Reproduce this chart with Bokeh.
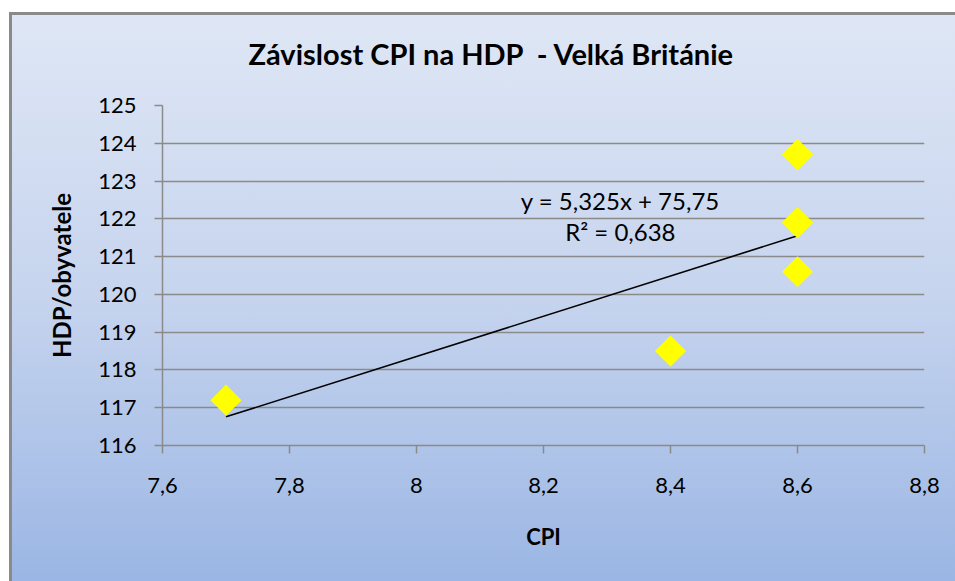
import numpy as np
from bokeh.plotting import figure
from bokeh.models import FixedTicker, Range1d, Label
from bokeh.embed import file_html
from bokeh.resources import INLINE

# Data
cpi = [7.7, 8.4, 8.6, 8.6, 8.6]
hdp = [117.2, 118.5, 120.6, 121.9, 123.7]
x_ticks = [7.6, 7.8, 8.0, 8.2, 8.4, 8.6, 8.8]
x_tick_labels = ["7,6", "7,8", "8", "8,2", "8,4", "8,6", "8,8"]
y_ticks = [116, 117, 118, 119, 120, 121, 122, 123, 124, 125]
title_text = "Závislost CPI na HDP\u00a0\u00a0- Velká Británie"
eq_text = "y = 5,325x + 75,75"
r2_text = "R² = 0,638"

FONT = "Lato"
GRAY = "#8a8a8a"

p = figure(width=946, height=581, output_backend="svg", toolbar_location=None,
           x_range=Range1d(7.6, 8.8), y_range=Range1d(116, 125),
           min_border_left=153, min_border_right=31, min_border_top=105, min_border_bottom=136)
p.margin = (0, 0, 0, 9)
p.styles = {
    "background": (
        "linear-gradient(#8a8a8a, #8a8a8a) 0 12px / 100% 3px no-repeat, "
        "linear-gradient(#8a8a8a, #8a8a8a) 0 12px / 3px 100% no-repeat, "
        "linear-gradient(to bottom, #dfe7f5 0%, #c6d4ee 50%, #9bb6e4 100%) 0 12px / 100% calc(100% - 12px) no-repeat, "
        "#ffffff"
    ),
}
p.background_fill_alpha = 0
p.border_fill_alpha = 0
p.outline_line_color = None

p.title.text = title_text
p.title.text_font = FONT
p.title.text_font_size = "29px"
p.title.text_font_style = "bold"
p.title.text_color = "black"
p.title.align = "left"
p.title.vertical_align = "top"
p.title.offset = 86
p.title.standoff = 66

# Axes
p.xaxis.ticker = FixedTicker(ticks=x_ticks)
p.xaxis.major_label_overrides = {t: l for t, l in zip(x_ticks, x_tick_labels)}
p.yaxis.ticker = FixedTicker(ticks=y_ticks)
for ax in (p.xaxis, p.yaxis):
    ax.axis_line_color = GRAY
    ax.axis_line_width = 1.5
    ax.major_tick_line_color = GRAY
    ax.major_tick_line_width = 1.5
    ax.major_tick_out = 8
    ax.major_tick_in = 0
    ax.minor_tick_line_color = None
    ax.major_label_text_font = FONT
    ax.major_label_text_font_size = "22px"
    ax.major_label_text_color = "black"
    ax.axis_label_text_font = FONT
    ax.axis_label_text_font_style = "bold"
    ax.axis_label_text_color = "black"
p.xaxis.axis_label = "CPI"
p.yaxis.axis_label = "HDP/obyvatele"
p.xaxis.axis_label_text_font_size = "22px"
p.yaxis.axis_label_text_font_size = "24px"
p.xaxis.major_label_standoff = 24
p.yaxis.major_label_standoff = 18
p.xaxis.axis_label_standoff = 27
p.yaxis.axis_label_standoff = 19

p.xgrid.grid_line_color = None
p.ygrid.grid_line_color = GRAY
p.ygrid.grid_line_width = 1.5

# Trend line (least squares from data)
slope, intercept = np.polyfit(cpi, hdp, 1)
xs = [min(cpi), max(cpi)]
p.line(xs, [slope * x + intercept for x in xs], line_color="black", line_width=1.6)

# Points
p.scatter(cpi, hdp, marker="square", size=22, angle=np.pi / 4,
          fill_color="#ffff00", line_color=None)

p.add_layout(Label(x=8.321, y=122.48, text=eq_text, text_font=FONT, text_font_size="24px",
                   text_align="center", text_baseline="middle", text_color="black"))
p.add_layout(Label(x=8.321, y=121.66, text=r2_text, text_font=FONT, text_font_size="24px",
                   text_align="center", text_baseline="middle", text_color="black"))

open("out.html", "w").write(file_html(p, INLINE))
